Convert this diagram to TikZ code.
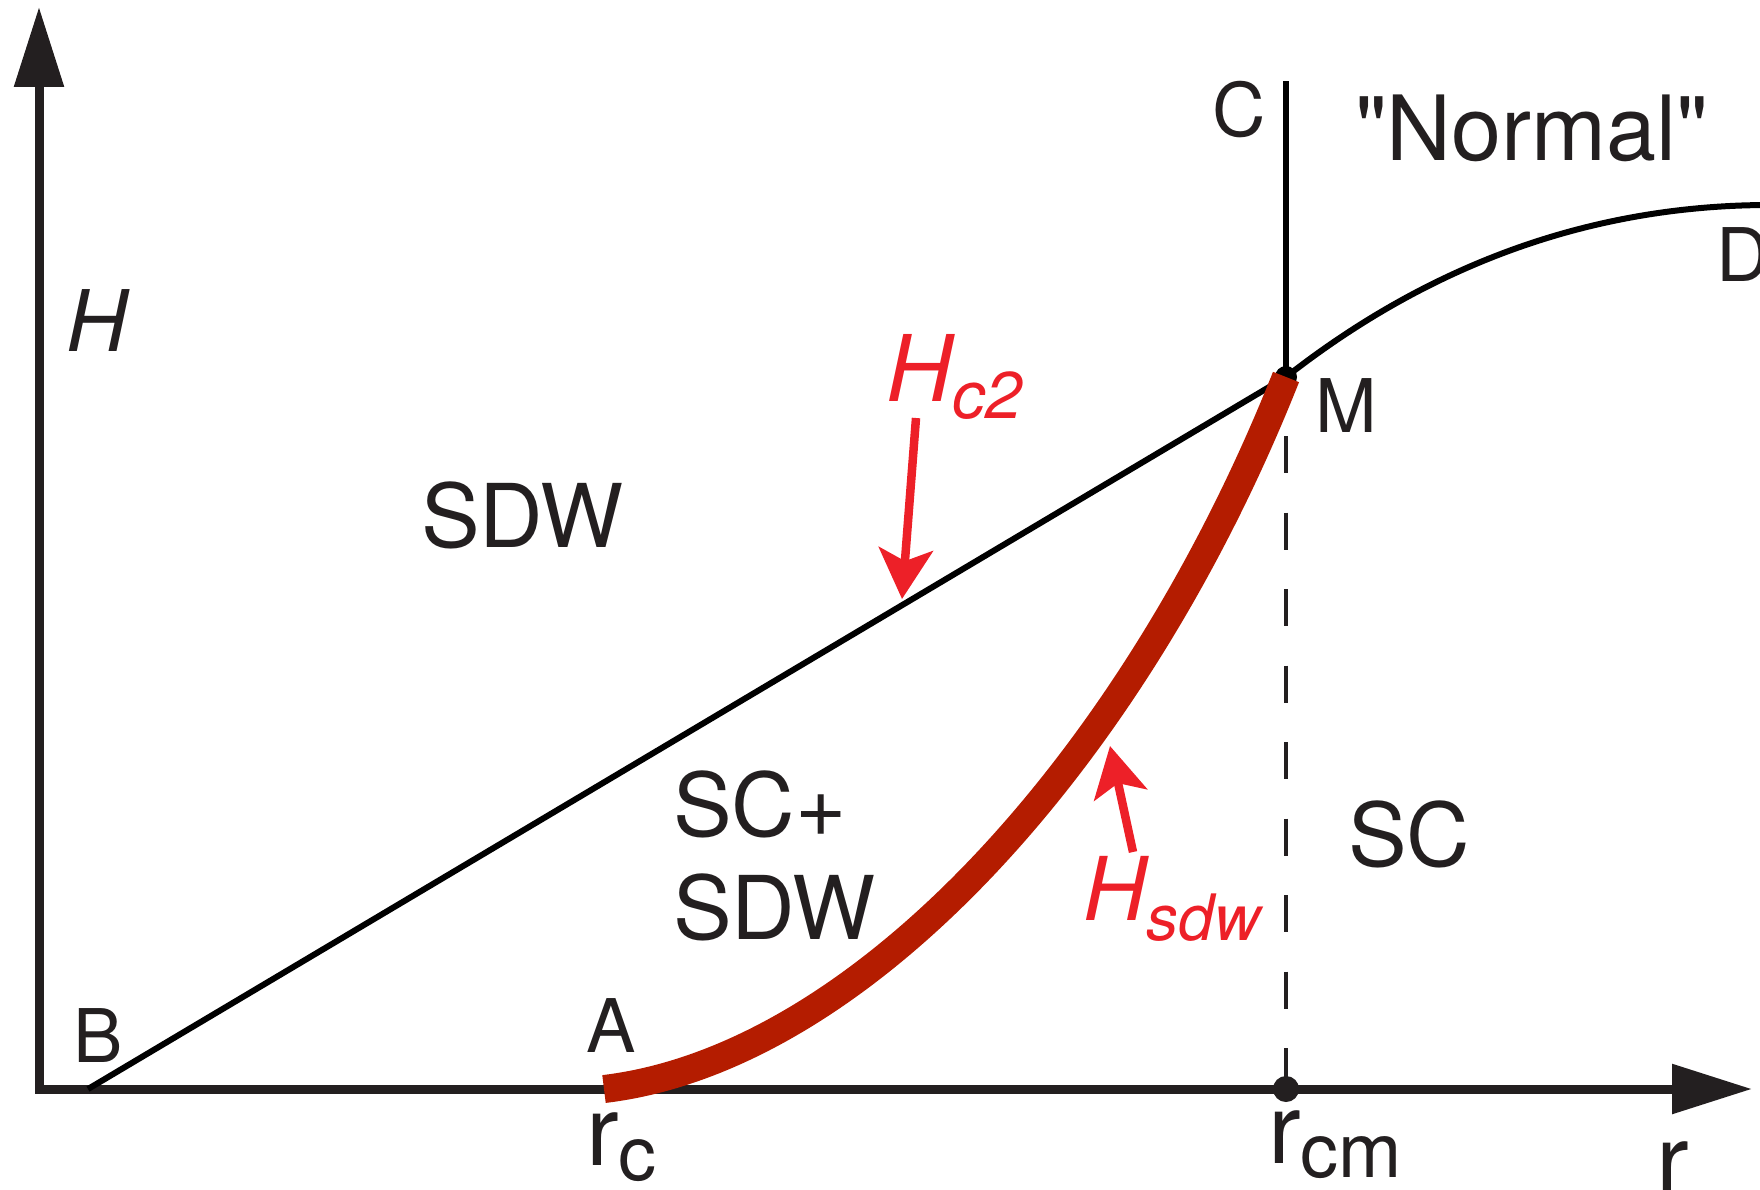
\documentclass[tikz,border=0pt]{standalone}
\usepackage{fontspec}
\setmainfont{TeX Gyre Heros}[Ligatures=TeXOff]
\usetikzlibrary{arrows.meta}
\definecolor{ink}{RGB}{35,31,32}
\definecolor{redc}{RGB}{237,32,40}
\definecolor{darkred}{RGB}{180,28,0}
\newcommand{\fsz}[1]{\fontsize{#1}{#1}\selectfont}
\begin{document}
\begin{tikzpicture}[x=1pt,y=-1pt,
  lbl/.style={inner sep=0pt,outer sep=0pt,anchor=base west,text=ink},
  biglbl/.style={lbl,font=\fsz{88}},
  ptlbl/.style={lbl,font=\fsz{74}},
  redlbl/.style={inner sep=0pt,outer sep=0pt,anchor=base west,text=redc},
  axisline/.style={line width=9pt,draw=ink,line join=miter,
    {Triangle[length=80pt,width=48pt]}-{Triangle[length=80pt,width=48pt]}},
  phaseline/.style={line width=6pt,draw=black},
  redarrow/.style={line width=8.5pt,draw=redc,
    -{Stealth[length=50pt,width=54pt,inset=12pt]}},
  sdwline/.style={line width=28pt,draw=darkred,line cap=butt},
  dashline/.style={line width=3.5pt,draw=ink,dash pattern=on 37pt off 39.5pt,dash phase=17.5pt}
]
\useasboundingbox (0,0) rectangle (1760,1190);

% key points
\coordinate (O) at (39,1089);
\coordinate (Ytop) at (39,7);
\coordinate (Xend) at (1752,1089);
\coordinate (B) at (88,1089);
\coordinate (M) at (1286,377);
\coordinate (A) at (604,1089);
\coordinate (Ctop) at (1286,81);
\coordinate (Dend) at (1770,205);
\coordinate (rcm) at (1286,1089);
\coordinate (hc2s) at (916,418);
\coordinate (hc2e) at (902,599);
\coordinate (hsdws) at (1133,852);
\coordinate (hsdwe) at (1110,746);

% axes
\draw[axisline] (Ytop) |- (Xend);

% phase boundaries
\draw[dashline] (M) -- (rcm);
\draw[phaseline] (B) -- (M);
\draw[line width=5.5pt] (M) -- (Ctop);
\draw[phaseline] (M) .. controls (1420,272) and (1580,205) .. (Dend);
\fill[black] (M) circle[radius=11pt];
\draw[sdwline] (A) .. controls (864,1058) and (1137,753) .. (M);
\fill[ink] (rcm) circle[radius=13pt];

% red arrows
\draw[redarrow] (hc2s) -- (hc2e);
\draw[redarrow] (hsdws) -- (hsdwe);

% labels
\node[lbl,font=\fsz{85}\itshape] (Hlbl) at (66,351) {H};
\node[ptlbl] (Blbl) at (73,1062) {B};
\node[ptlbl] (Albl) at (586,1052) {A};
\node[ptlbl] (Mlbl) at (1315,432) {M};
\node[ptlbl] (Clbl) at (1212,137) {C};
\node[ptlbl] (Dlbl) at (1716,281) {D};
\node[lbl,font=\fsz{90}] (normal) at (1355,161) {"Normal"};
\node[biglbl] (sdw1) at (421,547) {SDW};
\node[biglbl] (scsdw1) at (673,836) {SC+};
\node[biglbl] (scsdw2) at (673,939) {SDW};
\node[biglbl] (sc) at (1348,866) {SC};
\node[redlbl,font=\fsz{92}\itshape] (hc2) at (886,401) {H\raisebox{-17pt}{\fsz{66}c2}};
\node[redlbl,font=\fsz{88}\itshape] (hsdw) at (1083,920) {H\raisebox{-20pt}{\fsz{64}sdw}};
\node[lbl,font=\fsz{98}] (rclbl) at (586,1165) {r\raisebox{-15pt}{\fsz{76}c}};
\node[lbl,font=\fsz{98}] (rcmlbl) at (1268,1163) {r\raisebox{-14pt}{\fsz{76}cm}};
\node[lbl,font=\fsz{98}] (rlbl) at (1656,1194) {r};
\end{tikzpicture}
\end{document}
